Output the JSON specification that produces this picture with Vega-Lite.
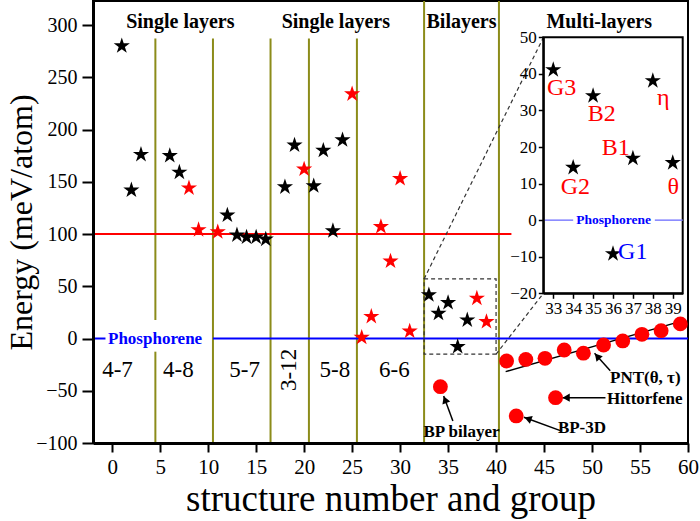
{
  "$schema": "https://vega.github.io/schema/vega-lite/v6.json",
  "width": 595,
  "height": 442,
  "autosize": {"type": "none"},
  "padding": {"left": 93, "top": 1, "right": 12, "bottom": 78},
  "config": {"view": {"stroke": "#000000", "strokeWidth": 2}, "font": "Liberation Serif"},
  "layer": [
    {
      "layer": [
        {
          "data": {"values": [
            {"x": 4.5, "y": 287, "y2": 17.7}, {"x": 4.5, "y": -12.6, "y2": -100},
            {"x": 10.5, "y": 287, "y2": -100}, {"x": 16.5, "y": 287, "y2": -100},
            {"x": 20.5, "y": 287, "y2": -100}, {"x": 25.5, "y": 287, "y2": -100},
            {"x": 32.5, "y": 323, "y2": -100}, {"x": 40.3, "y": 323, "y2": -100}
          ]},
          "mark": {"type": "rule", "color": "#8c8c1a", "strokeWidth": 2},
          "encoding": {
            "x": {"field": "x", "type": "quantitative", "scale": {"domain": [-2, 60], "nice": false, "zero": false},
              "axis": {"values": [0,2.5,5,7.5,10,12.5,15,17.5,20,22.5,25,27.5,30,32.5,35,37.5,40,42.5,45,47.5,50,52.5,55,57.5,60],
                "format": "d",
                "labelExpr": "datum.value % 5 === 0 ? datum.label : ''",
                "tickSize": {"condition": {"test": "datum.value % 5 !== 0", "value": 4}, "value": 9},
                "tickWidth": 2, "tickColor": "#000000", "domainWidth": 3, "domainColor": "#000000",
                "labelFontSize": 21, "labelFont": "Liberation Serif", "labelColor": "#000000", "labelPadding": 4,
                "labelOverlap": false, "labelFlush": false, "grid": false, "zindex": 1,
                "title": "structure number and group", "titleFont": "Liberation Serif", "titleFontSize": 37,
                "titleFontWeight": "normal", "titleColor": "#000000", "titlePadding": 4}},
            "y": {"field": "y", "type": "quantitative", "scale": {"domain": [-100, 323], "nice": false, "zero": false},
              "axis": {"values": [-100,-75,-50,-25,0,25,50,75,100,125,150,175,200,225,250,275,300],
                "format": "d",
                "labelExpr": "datum.value % 50 === 0 ? datum.label : ''",
                "tickSize": {"condition": {"test": "datum.value % 50 !== 0", "value": 5}, "value": 11},
                "tickWidth": 2, "tickColor": "#000000", "domainWidth": 3, "domainColor": "#000000",
                "labelFontSize": 20, "labelFont": "Liberation Serif", "labelColor": "#000000", "labelPadding": 5,
                "labelOverlap": false, "labelFlush": false, "grid": false, "zindex": 1,
                "title": "Energy (meV/atom)", "titleFont": "Liberation Serif", "titleFontSize": 32,
                "titleFontWeight": "normal", "titleColor": "#000000", "titlePadding": -3}},
            "y2": {"field": "y2"}
          }
        },
        {
          "data": {"values": [{"x": -2, "x2": 41.6, "y": 100}]},
          "mark": {"type": "rule", "color": "#ff0000", "strokeWidth": 2},
          "encoding": {
            "x": {"field": "x", "type": "quantitative", "scale": {"domain": [-2, 60], "nice": false, "zero": false}},
            "x2": {"field": "x2"},
            "y": {"field": "y", "type": "quantitative", "scale": {"domain": [-100, 323], "nice": false, "zero": false}}
          }
        },
        {
          "data": {"values": [{"x": -2, "x2": -0.7, "y": 0}, {"x": 10.5, "x2": 60, "y": 0}]},
          "mark": {"type": "rule", "color": "#0000ff", "strokeWidth": 2},
          "encoding": {
            "x": {"field": "x", "type": "quantitative", "scale": {"domain": [-2, 60], "nice": false, "zero": false}},
            "x2": {"field": "x2"},
            "y": {"field": "y", "type": "quantitative", "scale": {"domain": [-100, 323], "nice": false, "zero": false}}
          }
        },
        {
          "data": {"values": [{"x": 32.5, "x2": 40, "y": -15, "y2": 57}]},
          "mark": {"type": "rect", "filled": false, "stroke": "#333333", "strokeWidth": 1.2, "strokeDash": [4, 3]},
          "encoding": {
            "x": {"field": "x", "type": "quantitative", "scale": {"domain": [-2, 60], "nice": false, "zero": false}},
            "x2": {"field": "x2"},
            "y": {"field": "y", "type": "quantitative", "scale": {"domain": [-100, 323], "nice": false, "zero": false}},
            "y2": {"field": "y2"}
          }
        },
        {
          "data": {"values": [{"x": 32.5, "y": 57, "x2": 44.94, "y2": 288.3}, {"x": 40, "y": -15, "x2": 44.94, "y2": 43.3}]},
          "mark": {"type": "rule", "color": "#333333", "strokeWidth": 1.2, "strokeDash": [4, 3]},
          "encoding": {
            "x": {"field": "x", "type": "quantitative", "scale": {"domain": [-2, 60], "nice": false, "zero": false}},
            "x2": {"field": "x2"},
            "y": {"field": "y", "type": "quantitative", "scale": {"domain": [-100, 323], "nice": false, "zero": false}},
            "y2": {"field": "y2"}
          }
        },
        {
          "data": {"values": [{"x": 41, "y": -31.7, "x2": 59.5, "y2": 17.1}]},
          "mark": {"type": "rule", "color": "#000000", "strokeWidth": 1.5},
          "encoding": {
            "x": {"field": "x", "type": "quantitative", "scale": {"domain": [-2, 60], "nice": false, "zero": false}},
            "x2": {"field": "x2"},
            "y": {"field": "y", "type": "quantitative", "scale": {"domain": [-100, 323], "nice": false, "zero": false}},
            "y2": {"field": "y2"}
          }
        },
        {
          "data": {"name": "arrows", "values": [
            {"n": "pnt", "x": 51.9, "y": -30.8, "x2": 50.26, "y2": -14.1, "hx": 50.54, "hy": -17.0},
            {"n": "hit", "x": 51.4, "y": -56.6, "x2": 46.9, "y2": -56.6, "hx": 47.3, "hy": -56.6},
            {"n": "bp3d", "x": 46.7, "y": -88.2, "x2": 42.9, "y2": -75.4, "hx": 43.32, "hy": -76.7},
            {"n": "bpbi", "x": 35.5, "y": -78.9, "x2": 34.54, "y2": -55, "hx": 34.68, "hy": -58.5}
          ]},
          "layer": [
            {
              "mark": {"type": "rule", "color": "#000000", "strokeWidth": 1.5},
              "encoding": {
                "x": {"field": "x", "type": "quantitative", "scale": {"domain": [-2, 60], "nice": false, "zero": false}},
                "x2": {"field": "x2"},
                "y": {"field": "y", "type": "quantitative", "scale": {"domain": [-100, 323], "nice": false, "zero": false}},
                "y2": {"field": "y2"}
              }
            },
            {
              "transform": [{"filter": "datum.n === 'pnt'"}],
              "mark": {"type": "point", "shape": "triangle-up", "filled": true, "color": "#000000", "size": 70, "angle": 318, "opacity": 1},
              "encoding": {
                "x": {"field": "hx", "type": "quantitative", "scale": {"domain": [-2, 60], "nice": false, "zero": false}},
                "y": {"field": "hy", "type": "quantitative", "scale": {"domain": [-100, 323], "nice": false, "zero": false}}
              }
            },
            {
              "transform": [{"filter": "datum.n === 'hit'"}],
              "mark": {"type": "point", "shape": "triangle-up", "filled": true, "color": "#000000", "size": 70, "angle": 270, "opacity": 1},
              "encoding": {
                "x": {"field": "hx", "type": "quantitative", "scale": {"domain": [-2, 60], "nice": false, "zero": false}},
                "y": {"field": "hy", "type": "quantitative", "scale": {"domain": [-100, 323], "nice": false, "zero": false}}
              }
            },
            {
              "transform": [{"filter": "datum.n === 'bp3d'"}],
              "mark": {"type": "point", "shape": "triangle-up", "filled": true, "color": "#000000", "size": 70, "angle": 290, "opacity": 1},
              "encoding": {
                "x": {"field": "hx", "type": "quantitative", "scale": {"domain": [-2, 60], "nice": false, "zero": false}},
                "y": {"field": "hy", "type": "quantitative", "scale": {"domain": [-100, 323], "nice": false, "zero": false}}
              }
            },
            {
              "transform": [{"filter": "datum.n === 'bpbi'"}],
              "mark": {"type": "point", "shape": "triangle-up", "filled": true, "color": "#000000", "size": 70, "angle": 339, "opacity": 1},
              "encoding": {
                "x": {"field": "hx", "type": "quantitative", "scale": {"domain": [-2, 60], "nice": false, "zero": false}},
                "y": {"field": "hy", "type": "quantitative", "scale": {"domain": [-100, 323], "nice": false, "zero": false}}
              }
            }
          ]
        },
        {
          "data": {"values": [
            {"x": 1, "y": 280, "c": "black"}, {"x": 2, "y": 142, "c": "black"}, {"x": 3, "y": 176, "c": "black"},
            {"x": 6, "y": 175, "c": "black"}, {"x": 7, "y": 159, "c": "black"}, {"x": 8, "y": 144, "c": "red"},
            {"x": 9, "y": 104, "c": "red"}, {"x": 11, "y": 102, "c": "red"}, {"x": 12, "y": 118, "c": "black"},
            {"x": 13, "y": 99, "c": "black"}, {"x": 14, "y": 97, "c": "black"}, {"x": 15, "y": 97, "c": "black"},
            {"x": 16, "y": 95, "c": "black"}, {"x": 18, "y": 145, "c": "black"}, {"x": 19, "y": 185, "c": "black"},
            {"x": 20, "y": 162, "c": "red"}, {"x": 21, "y": 146, "c": "black"}, {"x": 22, "y": 180, "c": "black"},
            {"x": 23, "y": 103, "c": "black"}, {"x": 24, "y": 190, "c": "black"}, {"x": 25, "y": 234, "c": "red"},
            {"x": 26, "y": 1, "c": "red"}, {"x": 27, "y": 21, "c": "red"}, {"x": 28, "y": 107, "c": "red"},
            {"x": 29, "y": 74, "c": "red"}, {"x": 30, "y": 153, "c": "red"}, {"x": 31, "y": 7, "c": "red"},
            {"x": 33, "y": 41.7, "c": "black"}, {"x": 34, "y": 24, "c": "black"}, {"x": 35, "y": 34.3, "c": "black"},
            {"x": 36, "y": -7.8, "c": "black"}, {"x": 37, "y": 17.7, "c": "black"}, {"x": 38, "y": 38.5, "c": "red"},
            {"x": 39, "y": 16.1, "c": "red"}
          ]},
          "mark": {"type": "point", "shape": "M0,-1L0.225,-0.309L0.951,-0.309L0.363,0.118L0.588,0.809L0,0.382L-0.588,0.809L-0.363,0.118L-0.951,-0.309L-0.225,-0.309Z", "filled": true, "size": 290, "opacity": 1},
          "encoding": {
            "x": {"field": "x", "type": "quantitative", "scale": {"domain": [-2, 60], "nice": false, "zero": false}},
            "y": {"field": "y", "type": "quantitative", "scale": {"domain": [-100, 323], "nice": false, "zero": false}},
            "color": {"field": "c", "type": "nominal", "scale": {"domain": ["black", "red"], "range": ["#000000", "#ff0000"]}, "legend": null}
          }
        },
        {
          "data": {"values": [
            {"x": 41.1, "y": -21.5}, {"x": 43.1, "y": -20}, {"x": 45.1, "y": -19}, {"x": 47.1, "y": -11},
            {"x": 49.1, "y": -14}, {"x": 51.2, "y": -6.2}, {"x": 53.2, "y": -2.3}, {"x": 55.2, "y": 4},
            {"x": 57.2, "y": 7.5}, {"x": 59.2, "y": 14},
            {"x": 34.2, "y": -46.1}, {"x": 46.2, "y": -56.6}, {"x": 42.1, "y": -74.1}
          ]},
          "mark": {"type": "point", "shape": "circle", "filled": true, "size": 220, "color": "#ff0000", "opacity": 1},
          "encoding": {
            "x": {"field": "x", "type": "quantitative", "scale": {"domain": [-2, 60], "nice": false, "zero": false}},
            "y": {"field": "y", "type": "quantitative", "scale": {"domain": [-100, 323], "nice": false, "zero": false}}
          }
        },
        {
          "data": {"values": [
            {"x": 7.1, "y": 303, "t": "Single layers"}, {"x": 23.3, "y": 303, "t": "Single layers"},
            {"x": 36.4, "y": 303, "t": "Bilayers"}, {"x": 50.75, "y": 303, "t": "Multi-layers"}
          ]},
          "mark": {"type": "text", "font": "Liberation Serif", "fontSize": 20, "fontWeight": "bold", "color": "#000000", "align": "center", "baseline": "middle"},
          "encoding": {
            "x": {"field": "x", "type": "quantitative", "scale": {"domain": [-2, 60], "nice": false, "zero": false}},
            "y": {"field": "y", "type": "quantitative", "scale": {"domain": [-100, 323], "nice": false, "zero": false}},
            "text": {"field": "t"}
          }
        },
        {
          "data": {"values": [
            {"x": 0.55, "y": -30, "t": "4-7"}, {"x": 6.9, "y": -30, "t": "4-8"}, {"x": 13.8, "y": -30, "t": "5-7"},
            {"x": 23.2, "y": -30, "t": "5-8"}, {"x": 29.4, "y": -30, "t": "6-6"}
          ]},
          "mark": {"type": "text", "font": "Liberation Serif", "fontSize": 23, "color": "#000000", "align": "center", "baseline": "middle"},
          "encoding": {
            "x": {"field": "x", "type": "quantitative", "scale": {"domain": [-2, 60], "nice": false, "zero": false}},
            "y": {"field": "y", "type": "quantitative", "scale": {"domain": [-100, 323], "nice": false, "zero": false}},
            "text": {"field": "t"}
          }
        },
        {
          "data": {"values": [{"x": 18.4, "y": -30, "t": "3-12"}]},
          "mark": {"type": "text", "font": "Liberation Serif", "fontSize": 23, "color": "#000000", "align": "center", "baseline": "middle", "angle": 270},
          "encoding": {
            "x": {"field": "x", "type": "quantitative", "scale": {"domain": [-2, 60], "nice": false, "zero": false}},
            "y": {"field": "y", "type": "quantitative", "scale": {"domain": [-100, 323], "nice": false, "zero": false}},
            "text": {"field": "t"}
          }
        },
        {
          "data": {"values": [{"x": 4.47, "y": 0, "t": "Phosphorene"}]},
          "mark": {"type": "text", "font": "Liberation Serif", "fontSize": 17, "fontWeight": "bold", "color": "#0000ff", "align": "center", "baseline": "middle"},
          "encoding": {
            "x": {"field": "x", "type": "quantitative", "scale": {"domain": [-2, 60], "nice": false, "zero": false}},
            "y": {"field": "y", "type": "quantitative", "scale": {"domain": [-100, 323], "nice": false, "zero": false}},
            "text": {"field": "t"}
          }
        },
        {
          "data": {"values": [
            {"x": 55.55, "y": -37.8, "t": "PNT(θ, τ)"}, {"x": 55.5, "y": -58.2, "t": "Hittorfene"},
            {"x": 48.95, "y": -85.6, "t": "BP-3D"}, {"x": 36.4, "y": -89.4, "t": "BP bilayer"}
          ]},
          "mark": {"type": "text", "font": "Liberation Serif", "fontSize": 17, "fontWeight": "bold", "color": "#000000", "align": "center", "baseline": "middle"},
          "encoding": {
            "x": {"field": "x", "type": "quantitative", "scale": {"domain": [-2, 60], "nice": false, "zero": false}},
            "y": {"field": "y", "type": "quantitative", "scale": {"domain": [-100, 323], "nice": false, "zero": false}},
            "text": {"field": "t"}
          }
        }
      ]
    },
    {
      "layer": [
        {
          "data": {"values": [{"x": 32.5, "x2": 39.5, "y": -20, "y2": 50}]},
          "mark": {"type": "rect", "fill": "#ffffff", "stroke": "#000000", "strokeWidth": 2},
          "encoding": {
            "x": {"field": "x", "type": "quantitative", "scale": {"domain": [32.5, 39.5], "range": [450.3, 589.7], "nice": false, "zero": false},
              "axis": {"orient": "bottom", "offset": -149.7, "values": [33,33.5,34,34.5,35,35.5,36,36.5,37,37.5,38,38.5,39],
                "format": "d",
                "labelExpr": "datum.value % 1 === 0 ? datum.label : ''",
                "tickSize": {"condition": {"test": "datum.value % 1 !== 0", "value": 3}, "value": 5},
                "tickWidth": 1.5, "tickColor": "#000000", "domainWidth": 2, "domainColor": "#000000",
                "labelFontSize": 17, "labelFont": "Liberation Serif", "labelColor": "#000000", "labelPadding": 2,
                "labelOverlap": false, "labelFlush": false, "grid": false, "zindex": 1, "title": null}},
            "x2": {"field": "x2"},
            "y": {"field": "y", "type": "quantitative", "scale": {"domain": [-20, 50], "range": [292.3, 36.3], "nice": false, "zero": false},
              "axis": {"orient": "left", "offset": -450.3, "values": [-20,-15,-10,-5,0,5,10,15,20,25,30,35,40,45,50],
                "format": "d",
                "labelExpr": "datum.value % 10 === 0 ? datum.label : ''",
                "tickSize": {"condition": {"test": "datum.value % 10 !== 0", "value": 3}, "value": 5},
                "tickWidth": 1.5, "tickColor": "#000000", "domainWidth": 2, "domainColor": "#000000",
                "labelFontSize": 17, "labelFont": "Liberation Serif", "labelColor": "#000000", "labelPadding": 2,
                "labelOverlap": false, "labelFlush": false, "grid": false, "zindex": 1, "title": null}},
            "y2": {"field": "y2"}
          }
        },
        {
          "data": {"values": [{"x": 32.5, "x2": 34.0, "y": 0}, {"x": 38.1, "x2": 39.5, "y": 0}]},
          "mark": {"type": "rule", "color": "#8080ff", "strokeWidth": 1.5},
          "encoding": {
            "x": {"field": "x", "type": "quantitative", "scale": {"domain": [32.5, 39.5], "range": [450.3, 589.7], "nice": false, "zero": false}},
            "x2": {"field": "x2"},
            "y": {"field": "y", "type": "quantitative", "scale": {"domain": [-20, 50], "range": [292.3, 36.3], "nice": false, "zero": false}}
          }
        },
        {
          "data": {"values": [
            {"x": 33, "y": 41.1}, {"x": 34, "y": 14.4}, {"x": 35, "y": 34}, {"x": 36, "y": -9.2},
            {"x": 37, "y": 16.9}, {"x": 38, "y": 38.1}, {"x": 39, "y": 15.7}
          ]},
          "mark": {"type": "point", "shape": "M0,-1L0.225,-0.309L0.951,-0.309L0.363,0.118L0.588,0.809L0,0.382L-0.588,0.809L-0.363,0.118L-0.951,-0.309L-0.225,-0.309Z", "filled": true, "size": 290, "color": "#000000", "opacity": 1},
          "encoding": {
            "x": {"field": "x", "type": "quantitative", "scale": {"domain": [32.5, 39.5], "range": [450.3, 589.7], "nice": false, "zero": false}},
            "y": {"field": "y", "type": "quantitative", "scale": {"domain": [-20, 50], "range": [292.3, 36.3], "nice": false, "zero": false}}
          }
        },
        {
          "data": {"values": [
            {"x": 33.42, "y": 36.1, "t": "G3"}, {"x": 35.43, "y": 29.0, "t": "B2"}, {"x": 38.53, "y": 33.3, "t": "η"},
            {"x": 36.14, "y": 19.8, "t": "B1"}, {"x": 34.11, "y": 9.2, "t": "G2"}, {"x": 39.03, "y": 9.2, "t": "θ"}
          ]},
          "mark": {"type": "text", "font": "Liberation Serif", "fontSize": 24, "color": "#ff0000", "align": "center", "baseline": "middle"},
          "encoding": {
            "x": {"field": "x", "type": "quantitative", "scale": {"domain": [32.5, 39.5], "range": [450.3, 589.7], "nice": false, "zero": false}},
            "y": {"field": "y", "type": "quantitative", "scale": {"domain": [-20, 50], "range": [292.3, 36.3], "nice": false, "zero": false}},
            "text": {"field": "t"}
          }
        },
        {
          "data": {"values": [{"x": 36.99, "y": -8.8, "t": "G1"}]},
          "mark": {"type": "text", "font": "Liberation Serif", "fontSize": 24, "color": "#0000ff", "align": "center", "baseline": "middle"},
          "encoding": {
            "x": {"field": "x", "type": "quantitative", "scale": {"domain": [32.5, 39.5], "range": [450.3, 589.7], "nice": false, "zero": false}},
            "y": {"field": "y", "type": "quantitative", "scale": {"domain": [-20, 50], "range": [292.3, 36.3], "nice": false, "zero": false}},
            "text": {"field": "t"}
          }
        },
        {
          "data": {"values": [{"x": 36.03, "y": 0, "t": "Phosphorene"}]},
          "mark": {"type": "text", "font": "Liberation Serif", "fontSize": 13.5, "fontWeight": "bold", "color": "#0000ff", "align": "center", "baseline": "middle"},
          "encoding": {
            "x": {"field": "x", "type": "quantitative", "scale": {"domain": [32.5, 39.5], "range": [450.3, 589.7], "nice": false, "zero": false}},
            "y": {"field": "y", "type": "quantitative", "scale": {"domain": [-20, 50], "range": [292.3, 36.3], "nice": false, "zero": false}},
            "text": {"field": "t"}
          }
        }
      ]
    }
  ],
  "resolve": {"scale": {"x": "independent", "y": "independent"}, "axis": {"x": "independent", "y": "independent"}}
}
